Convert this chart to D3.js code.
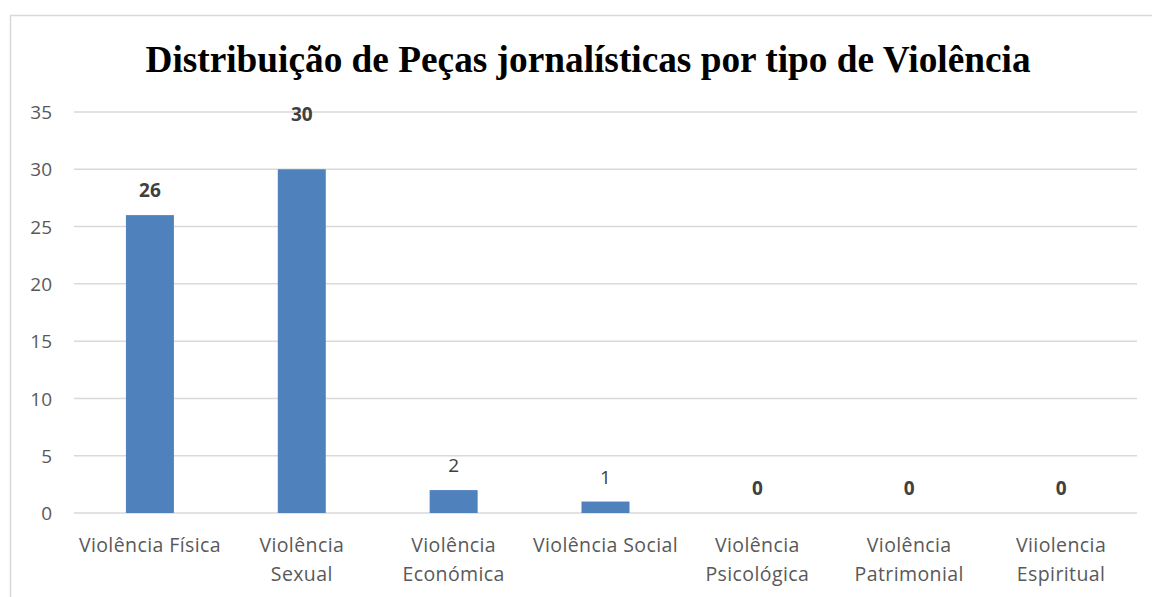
<!DOCTYPE html>
<html><head><meta charset="utf-8">
<script src="https://cdn.jsdelivr.net/npm/d3@7"></script>
<style>body{margin:0;background:#fff;}svg{display:block;}</style>
</head><body>
<svg id="c" width="1152" height="597"></svg>
<script>
const categories = ["Violência Física","Violência Sexual","Violência Económica","Violência Social","Violência Psicológica","Violência Patrimonial","Viiolencia Espiritual"];
const categoryLines = [["Violência Física"],["Violência","Sexual"],["Violência","Económica"],["Violência Social"],["Violência","Psicológica"],["Violência","Patrimonial"],["Viiolencia","Espiritual"]];
const values = [26,30,2,1,0,0,0];
const labelBold = [true,true,false,false,true,true,true];
const yTicks = [0,5,10,15,20,25,30,35];
const title = "Distribuição de Peças jornalísticas por tipo de Violência";

const svg = d3.select("#c");
const W=1152,H=597;
const m={left:74,right:1137,top:112,bottom:513};
const labelExtraLift = {"Violência Sexual":30};

// frame
svg.append("rect").attr("x",10.5).attr("y",15.5).attr("width",W+20).attr("height",H+20)
  .attr("fill","#fff").attr("stroke","#d9d9d9").attr("stroke-width",1.5);

const x = d3.scaleBand().domain(categories).range([m.left,m.right]).paddingInner(0).paddingOuter(0);
const y = d3.scaleLinear().domain([0,35]).range([m.bottom,m.top]);
const barW = x.step()*0.316;

// gridlines
svg.append("g").selectAll("line").data(yTicks).join("line")
  .attr("x1",m.left).attr("x2",m.right)
  .attr("y1",d=>y(d)).attr("y2",d=>y(d))
  .attr("stroke","#d9d9d9").attr("stroke-width",1.5);

// y axis labels
const yAxis = d3.axisLeft(y).tickValues(yTicks).tickSize(0).tickPadding(0);
const ga = svg.append("g").attr("transform",`translate(52,0)`).call(yAxis);
ga.select(".domain").remove();
ga.selectAll("text").attr("font-family","'Open Sans', sans-serif").attr("font-size",19).attr("fill","#595959").attr("dy","0.35em");

// bars
svg.append("g").selectAll("rect").data(values).join("rect")
  .attr("x",(d,i)=>x(categories[i])+x.step()/2-barW/2)
  .attr("width",barW)
  .attr("y",d=>y(d)).attr("height",d=>y(0)-y(d))
  .attr("fill","#4f81bd");

// value labels
svg.append("g").selectAll("text").data(values).join("text")
  .attr("x",(d,i)=>x(categories[i])+x.step()/2)
  .attr("y",(d,i)=>y(d)-18-(labelExtraLift[categories[i]]||0))
  .attr("text-anchor","middle")
  .attr("font-family","'Open Sans', sans-serif").attr("font-size",19)
  .attr("font-weight",(d,i)=>labelBold[i]?"bold":"normal")
  .attr("fill","#404040")
  .text(d=>d);

// x labels
const gx = svg.append("g");
categoryLines.forEach((lines,i)=>{
  const t = gx.append("text").attr("x",x(categories[i])+x.step()/2).attr("y",552)
    .attr("text-anchor","middle").attr("font-family","'Open Sans', sans-serif")
    .attr("font-size",19.5).attr("fill","#595959").attr("letter-spacing",0.4);
  lines.forEach((l,j)=>t.append("tspan").attr("x",x(categories[i])+x.step()/2).attr("dy",j?29:0).text(l));
});

// title
svg.append("text").attr("x",588).attr("y",72).attr("text-anchor","middle")
  .attr("font-family","'Liberation Serif','Times New Roman',serif").attr("font-weight","bold")
  .attr("font-size",37.3).attr("fill","#000").text(title);
</script>
</body></html>
